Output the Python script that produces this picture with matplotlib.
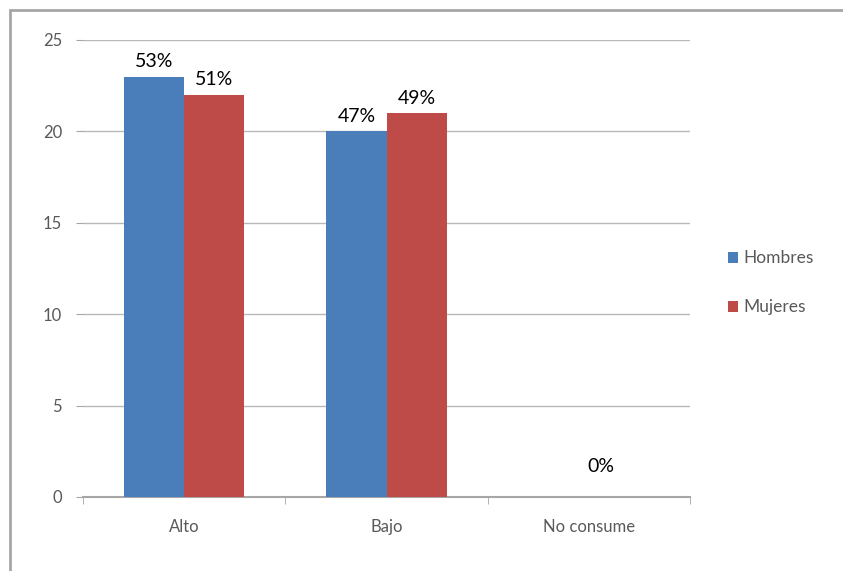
import numpy as np
import matplotlib
matplotlib.use('Agg')
import matplotlib.pyplot as plt
from matplotlib.patches import Rectangle

# Datos del gráfico
categorias = ['Alto', 'Bajo', 'No consume']
hombres = [23, 20, 0]
mujeres = [22, 21, 0]
etiquetas_hombres = ['53%', '47%', '']
etiquetas_mujeres = ['51%', '49%', '']
etiqueta_no_consume = '0%'
yticks = [0, 5, 10, 15, 20, 25]

azul = '#4a7ebb'
rojo = '#be4b48'
gris = '#595959'
fuente = 'Lato'

fig = plt.figure(figsize=(8.43, 5.71), dpi=100)
ax = fig.add_axes([0.0985, 0.1296, 0.72, 0.8004])

# marco de la figura
fig.patches.append(Rectangle((10 / 843, -0.1), 1.2, 1 - 10 / 571 + 0.1,
                             transform=fig.transFigure, fill=False,
                             edgecolor='#a6a6a6', linewidth=2))

x = np.arange(len(categorias))
w = 0.297
b1 = ax.bar(x - w / 2, hombres, w, color=azul, label='Hombres', zorder=3)
b2 = ax.bar(x + w / 2, mujeres, w, color=rojo, label='Mujeres', zorder=3)

# etiquetas de datos
for rect, txt in zip(b1, etiquetas_hombres):
    if txt:
        ax.text(rect.get_x() + rect.get_width() / 2, rect.get_height() + 0.35, txt,
                ha='center', va='bottom', fontsize=14, family=fuente, color='black')
for rect, txt in zip(b2, etiquetas_mujeres):
    if txt:
        ax.text(rect.get_x() + rect.get_width() / 2, rect.get_height() + 0.35, txt,
                ha='center', va='bottom', fontsize=14, family=fuente, color='black')
ax.text(x[2] + 0.06, 1.2, etiqueta_no_consume, ha='center', va='bottom',
        fontsize=14, family=fuente, color='black')

ax.set_ylim(0, 25)
ax.set_xlim(-0.5, 2.5)
ax.set_yticks(yticks)
ax.yaxis.grid(True, color='#b8b8b8', linewidth=1, zorder=0)
ax.set_axisbelow(True)

ax.set_xticks(x)
ax.set_xticklabels(categorias)
ax.set_xticks([-0.5, 0.5, 1.5, 2.5], minor=True)
ax.tick_params(axis='x', which='major', length=0, pad=16, labelsize=12, labelcolor=gris)
ax.tick_params(axis='x', which='minor', length=5, color='#a6a6a6', direction='out')
ax.tick_params(axis='y', length=5, color='#a6a6a6', labelsize=12, labelcolor=gris, pad=10)
for lab in ax.get_xticklabels() + ax.get_yticklabels():
    lab.set_family(fuente)

for s in ['top', 'right', 'left']:
    ax.spines[s].set_visible(False)
ax.spines['bottom'].set_color('#a6a6a6')
ax.spines['bottom'].set_linewidth(1.5)

leg = fig.legend(handles=[b1, b2], loc='center left', bbox_to_anchor=(0.845, 0.505),
                 frameon=False, handlelength=0.6, handleheight=0.6, handletextpad=0.3,
                 labelspacing=1.9, prop={'family': fuente, 'size': 12.5})
for t in leg.get_texts():
    t.set_color(gris)

fig.savefig('out.png', dpi=100)
